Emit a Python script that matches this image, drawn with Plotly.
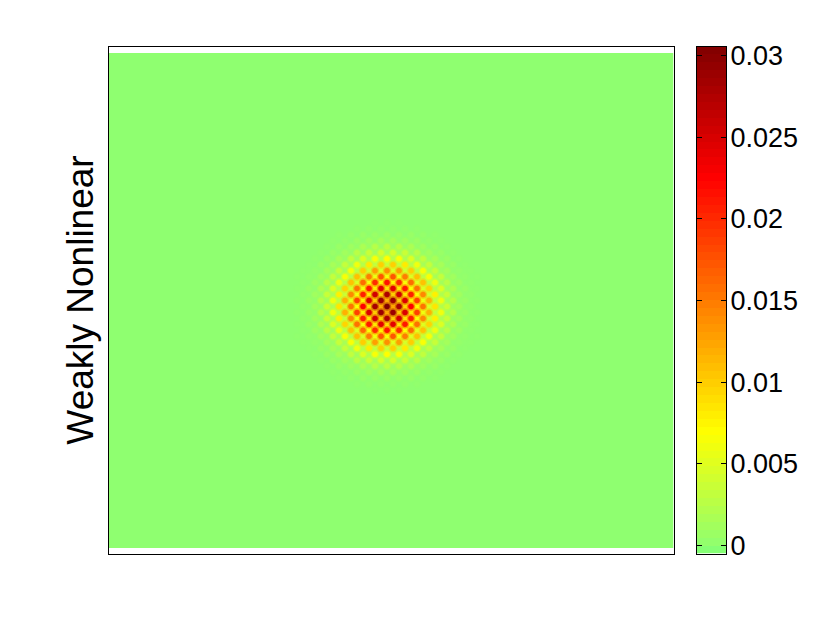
import numpy as np
import plotly.graph_objects as go

# Field values, in units of 1e-4, on a 6 px lattice.
# One quadrant of the blob: rows are distance from centre, columns likewise.
# Spots (row + column even) and the holes between them alternate like a checkerboard.
quadrant = [
    [310, 125, 280, 92, 225, 70, 155, 45, 85, 21, 38, 8, 12, 2, 3, 0],
    [125, 288, 102, 247, 79, 186, 59, 117, 29, 60, 12, 24, 4, 7, 1, 2],
    [276, 100, 254, 84, 206, 66, 142, 40, 78, 19, 35, 7, 11, 2, 3, 0],
    [90, 242, 83, 210, 68, 156, 48, 95, 24, 48, 10, 19, 3, 6, 1, 1],
    [214, 76, 198, 67, 159, 51, 106, 28, 59, 12, 26, 5, 9, 1, 2, 0],
    [66, 173, 62, 149, 49, 107, 29, 65, 14, 32, 7, 11, 2, 3, 0, 1],
    [138, 52, 128, 43, 99, 28, 66, 16, 34, 8, 13, 2, 4, 1, 1, 0],
    [36, 98, 33, 82, 25, 60, 15, 33, 8, 15, 3, 6, 0, 1, 0, 0],
    [70, 24, 65, 20, 48, 12, 31, 8, 15, 3, 7, 0, 2, 0, 0, 0],
    [15, 43, 13, 36, 10, 26, 6, 12, 3, 6, 0, 2, 0, 0, 0, 0],
    [28, 9, 25, 8, 18, 5, 10, 2, 6, 0, 2, 0, 0, 0, 0, 0],
    [5, 14, 4, 11, 3, 8, 1, 4, 0, 2, 0, 0, 0, 0, 0, 0],
    [8, 2, 7, 1, 6, 0, 4, 0, 2, 0, 0, 0, 0, 0, 0, 0],
    [0, 3, 0, 3, 0, 2, 0, 0, 0, 0, 0, 0, 0, 0, 0, 0],
    [2, 0, 1, 0, 0, 0, 0, 0, 0, 0, 0, 0, 0, 0, 0, 0],
]
value_unit = 1e-4

colorbar_ticks = [0, 0.005, 0.01, 0.015, 0.02, 0.025, 0.03]
colorbar_labels = ["0", "0.005", "0.01", "0.015", "0.02", "0.025", "0.03"]
y_label = "Weakly Nonlinear"

vmin, vmax = -0.0005, 0.03055
colorscale = [
    [0.00, "rgb(124,255,120)"],
    [0.016, "rgb(143,255,112)"],
    [0.24, "rgb(255,255,0)"],
    [0.74, "rgb(255,0,0)"],
    [1.00, "rgb(128,0,0)"],
]

# Assemble the lattice field
q = np.array(quadrant, dtype=float) * value_unit
blob = np.vstack([np.flipud(q[1:]), q])
blob = np.hstack([np.fliplr(blob[:, 1:]), blob])
lat_x = np.arange(-47, 49)
lat_y = np.arange(-40, 43)
lat = np.zeros((len(lat_y), len(lat_x)))
cx, cy = 47, 40
lat[cy - 14:cy + 15, cx - 15:cx + 16] = blob

# Spots sit where lattice indices (relative to the centre) have an even sum
jj, ii = np.nonzero(lat)
is_spot = ((lat_y[jj] + lat_x[ii]) % 2) == 0
spot_x, spot_y, spot_v = lat_x[ii[is_spot]], lat_y[jj[is_spot]], lat[jj[is_spot], ii[is_spot]]

# Smooth floor between the spots: each spot cell takes the level of its surrounding holes
floor = lat.copy()
for j, i in zip(jj[is_spot], ii[is_spot]):
    floor[j, i] = (lat[j, i - 1] + lat[j, i + 1] + lat[j - 1, i] + lat[j + 1, i]) / 4

levels = np.linspace(vmin, vmax, 65)
level_mid = (levels[:-1] + levels[1:]) / 2

fig = go.Figure()
fig.add_trace(go.Heatmap(x=lat_x, y=lat_y, z=floor, zmin=vmin, zmax=vmax, colorscale=colorscale,
                         zsmooth="best", showscale=False, hoverinfo="skip",
                         xaxis="x", yaxis="y"))
for size, alpha in [(8.5, 0.4), (5.5, 1.0)]:
    fig.add_trace(go.Scatter(x=spot_x, y=spot_y, mode="markers", hoverinfo="skip",
                             showlegend=False, xaxis="x", yaxis="y", opacity=alpha,
                             marker=dict(size=size, color=spot_v, cmin=vmin, cmax=vmax,
                                         colorscale=colorscale, line=dict(width=0))))
fig.add_trace(go.Heatmap(x=[0], y=level_mid, z=[[v] for v in level_mid], zmin=vmin, zmax=vmax,
                         colorscale=colorscale, showscale=False, hoverinfo="skip",
                         xaxis="x2", yaxis="y2"))

# The page body adds an 8 px offset, so the figure is 8 px smaller and positions shift by 8.
W, H = 822, 615
PAD = 8
def xd(a, b):
    return [(a - PAD) / W, (b - PAD) / W]
def yd(top, bottom):
    return [1 - (bottom - PAD) / H, 1 - (top - PAD) / H]

line = dict(showline=True, linecolor="black", linewidth=1, mirror=True)
fig.update_layout(
    template=None, showlegend=False,
    width=W, height=H, margin=dict(l=0, r=0, t=0, b=0, autoexpand=False),
    paper_bgcolor="white", plot_bgcolor="white",
    font=dict(family="Liberation Sans, Arial, sans-serif", color="black", size=27),
    xaxis=dict(domain=xd(108.5, 673.5), range=[-46.42, 47.75], showticklabels=False,
               ticks="", showgrid=False, zeroline=False, automargin=False, **line),
    yaxis=dict(domain=yd(46.5, 553.5), range=[-41.42, 43.59], showticklabels=False,
               ticks="", showgrid=False, zeroline=False, automargin=False,
               title=dict(text=y_label, font=dict(size=37), standoff=2), **line),
    xaxis2=dict(domain=xd(697, 726), range=[-0.5, 0.5], showticklabels=False,
                ticks="", showgrid=False, zeroline=False, anchor="y2", automargin=False, **line),
    yaxis2=dict(domain=yd(46.5, 553.5), range=[vmin, vmax], anchor="x2", side="right",
                tickmode="array", tickvals=colorbar_ticks, ticktext=colorbar_labels,
                ticks="inside", ticklen=5, tickcolor="black", tickwidth=1, automargin=False,
                showgrid=False, zeroline=False, showline=True, linecolor="black", linewidth=1,
                mirror="ticks", tickfont=dict(size=27), ticklabelstandoff=-2),
)
fig.write_html("out.html")
